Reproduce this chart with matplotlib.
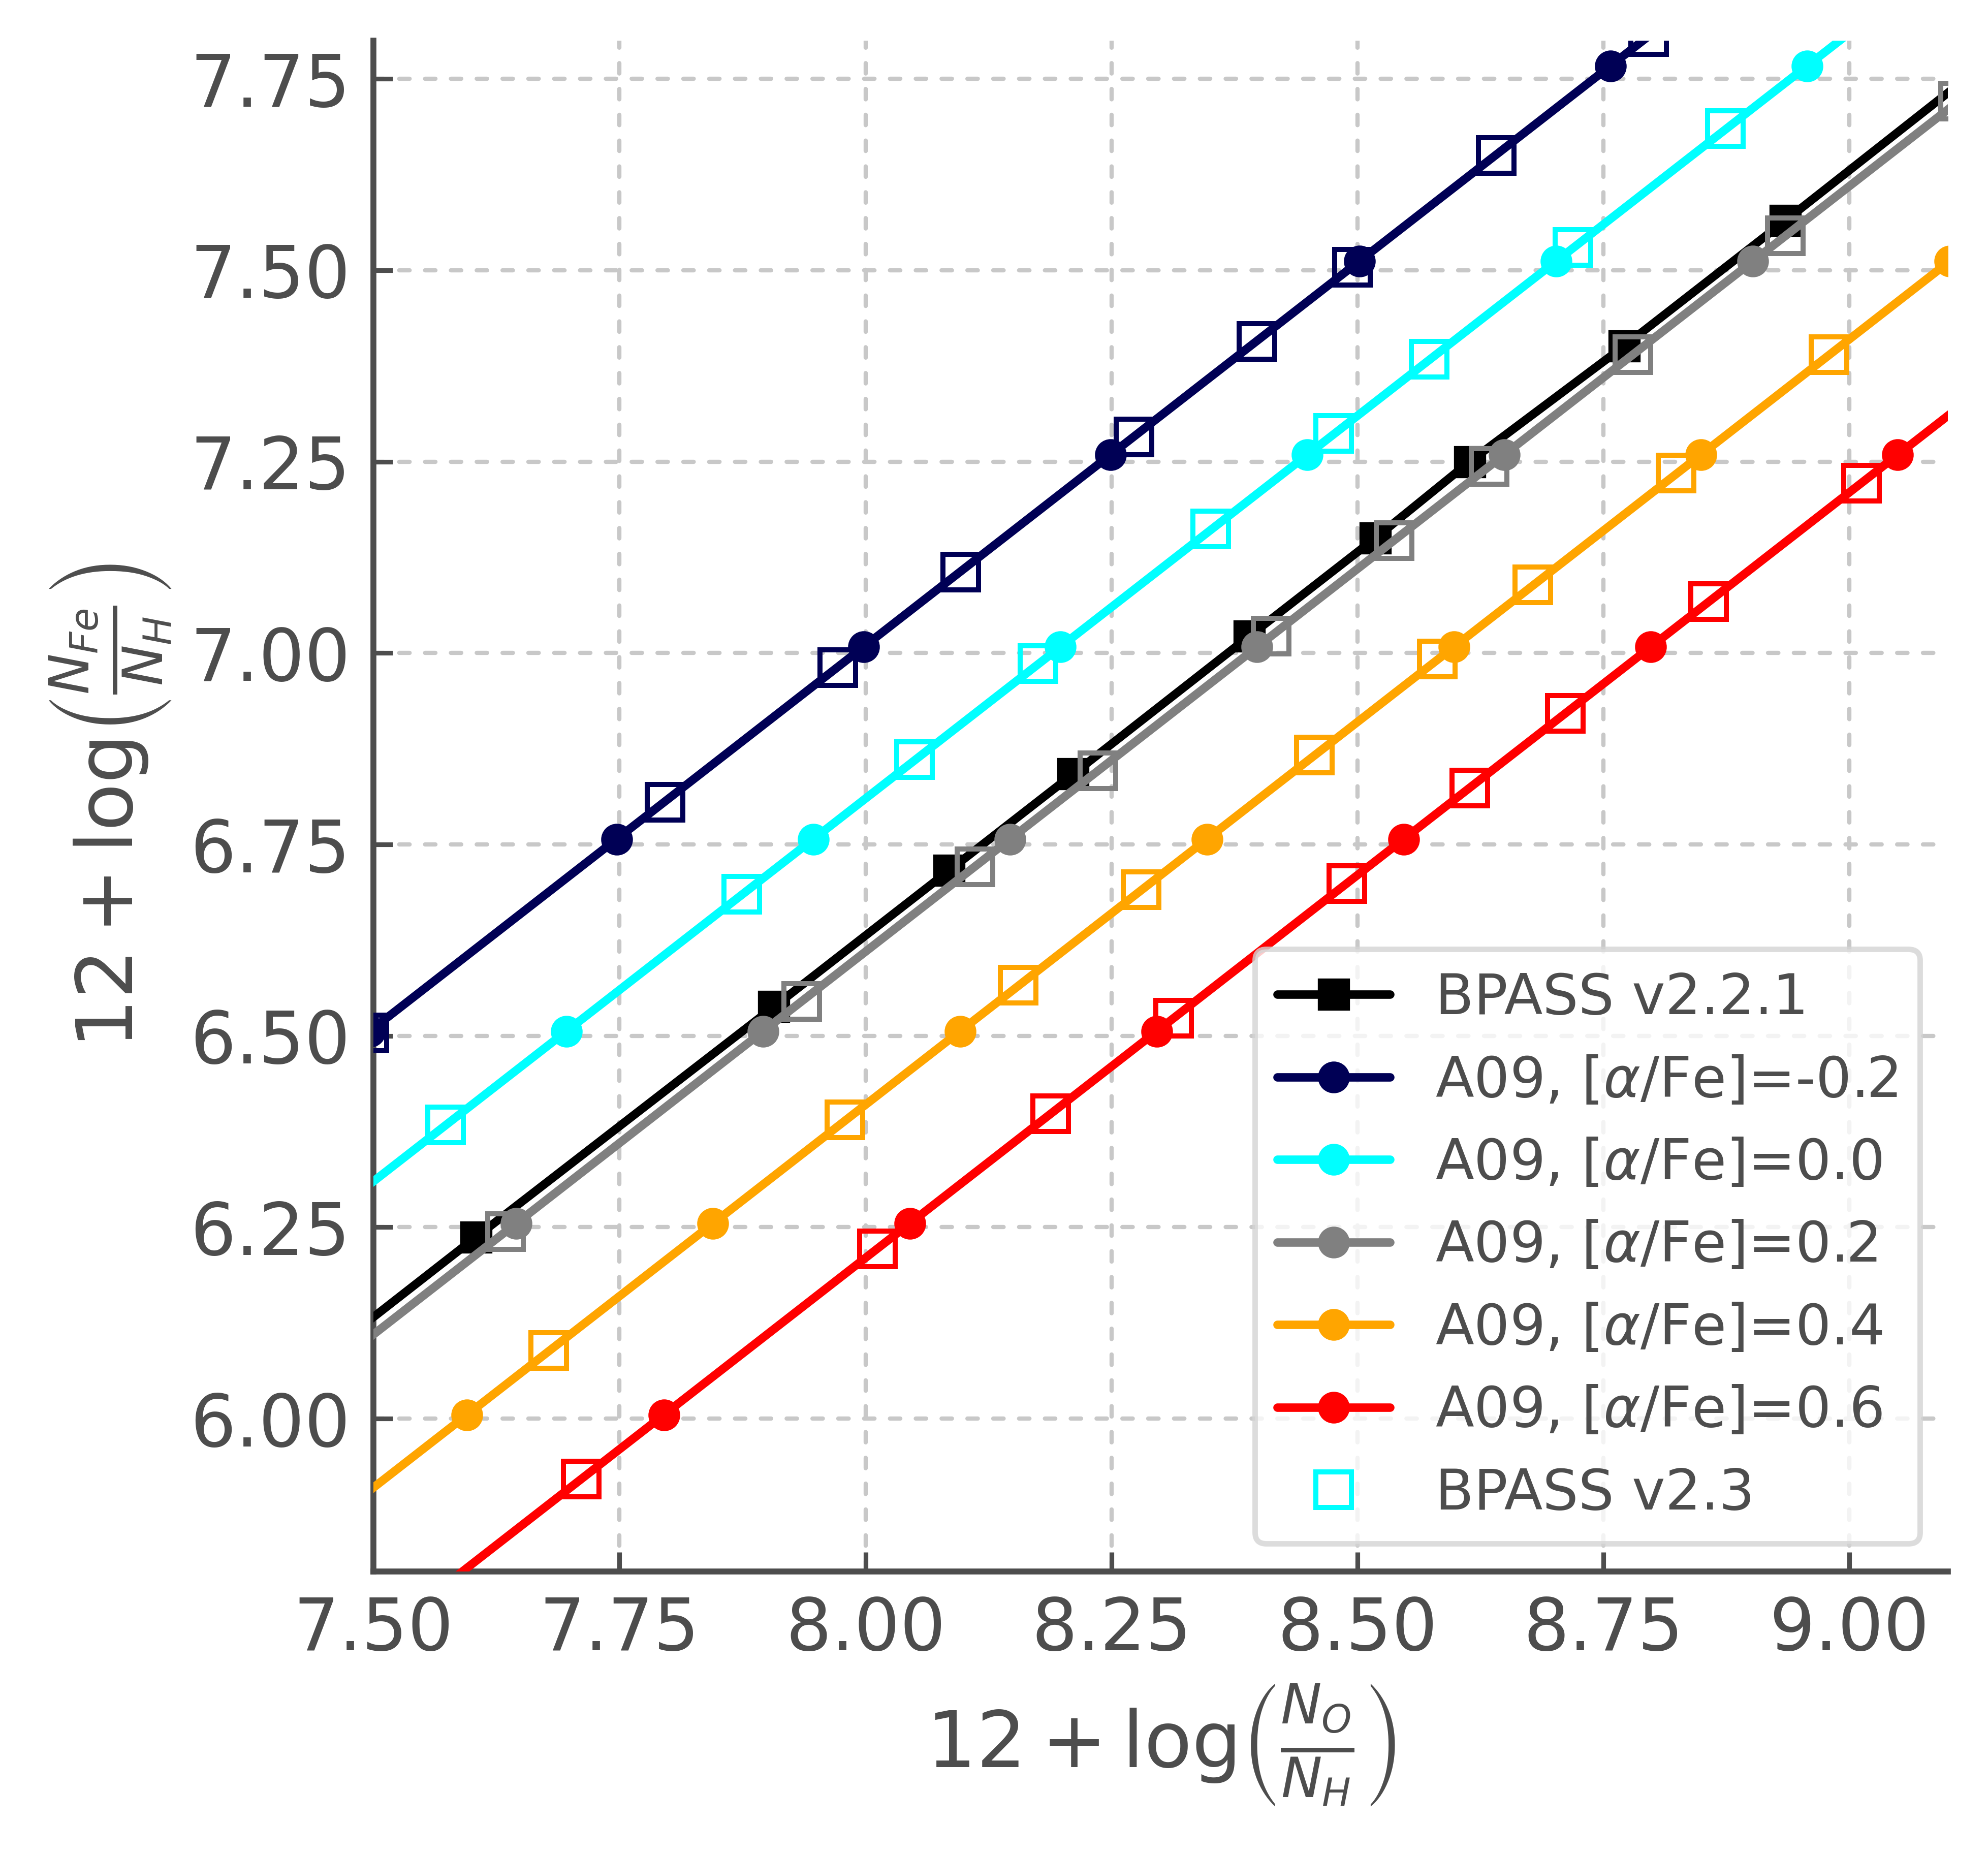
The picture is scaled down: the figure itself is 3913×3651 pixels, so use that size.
import matplotlib
matplotlib.use("Agg")
import matplotlib.pyplot as plt

# couleurs
GRIS_TXT = "#4d4d4d"
COULEURS = ["#000055", "cyan", "gray", "orange", "red"]
ALPHAS = ["-0.2", "0.0", "0.2", "0.4", "0.6"]

# ---- BPASS v2.2.1 (ligne noire) ----
bp221_O = [6.600, 7.604, 7.907, 8.085, 8.211, 8.390, 8.518, 8.614, 8.771, 8.935, 9.117]
bp221_Fe = [5.230, 6.237, 6.538, 6.716, 6.842, 7.022, 7.150, 7.250, 7.401, 7.565, 7.749]

# ---- A09, une courbe par [alpha/Fe] ----
a09_Fe = [5.503, 5.754, 6.005, 6.255, 6.506, 6.757, 7.008, 7.259, 7.512, 7.767, 8.020]
a09_O_m02 = [6.493, 6.744, 6.995, 7.245, 7.496, 7.747, 7.998, 8.249, 8.502, 8.757, 9.010]
a09_O_00 = [6.693, 6.944, 7.195, 7.445, 7.696, 7.947, 8.198, 8.449, 8.702, 8.957, 9.210]
a09_O_02 = [6.893, 7.144, 7.395, 7.645, 7.896, 8.147, 8.398, 8.649, 8.902, 9.157, 9.410]
a09_O_04 = [7.093, 7.344, 7.595, 7.845, 8.096, 8.347, 8.598, 8.849, 9.102, 9.357, 9.610]
a09_O_06 = [7.293, 7.544, 7.795, 8.045, 8.296, 8.547, 8.798, 9.049, 9.302, 9.557, 9.810]

# ---- BPASS v2.3 (carres vides) ----
bp23_O_m02 = [7.495, 7.796, 7.972, 8.097, 8.273, 8.398, 8.495, 8.641, 8.796]
bp23_Fe_m02 = [6.504, 6.805, 6.981, 7.106, 7.282, 7.407, 7.504, 7.650, 7.805]
bp23_O_00 = [7.573, 7.874, 8.050, 8.175, 8.351, 8.476, 8.573, 8.719, 8.874]
bp23_Fe_00 = [6.384, 6.685, 6.861, 6.986, 7.162, 7.287, 7.384, 7.530, 7.685]
bp23_O_02 = [7.634, 7.935, 8.111, 8.236, 8.412, 8.537, 8.634, 8.780, 8.935, 9.111]
bp23_Fe_02 = [6.244, 6.545, 6.721, 6.846, 7.022, 7.147, 7.244, 7.390, 7.545, 7.721]
bp23_O_04 = [7.678, 7.979, 8.155, 8.280, 8.456, 8.581, 8.678, 8.824, 8.979]
bp23_Fe_04 = [6.089, 6.390, 6.566, 6.691, 6.867, 6.992, 7.089, 7.235, 7.390]
bp23_O_06 = [7.711, 8.012, 8.188, 8.313, 8.489, 8.614, 8.711, 8.857, 9.012]
bp23_Fe_06 = [5.921, 6.222, 6.398, 6.523, 6.699, 6.824, 6.921, 7.067, 7.222]

a09_O = [a09_O_m02, a09_O_00, a09_O_02, a09_O_04, a09_O_06]
bp23_O = [bp23_O_m02, bp23_O_00, bp23_O_02, bp23_O_04, bp23_O_06]
bp23_Fe = [bp23_Fe_m02, bp23_Fe_00, bp23_Fe_02, bp23_Fe_04, bp23_Fe_06]

XTICKS = [7.50, 7.75, 8.00, 8.25, 8.50, 8.75, 9.00]
YTICKS = [6.00, 6.25, 6.50, 6.75, 7.00, 7.25, 7.50, 7.75]

plt.rcParams.update({
    "text.color": GRIS_TXT,
    "axes.labelcolor": GRIS_TXT,
    "xtick.color": GRIS_TXT,
    "ytick.color": GRIS_TXT,
    "axes.edgecolor": GRIS_TXT,
    "lines.solid_capstyle": "round",
})

fig = plt.figure(figsize=(3913 / 600, 3651 / 600), dpi=600)
ax = fig.add_axes([0.1879, 0.1527, 0.9798 - 0.1879, 0.9781 - 0.1527])

ax.plot(bp221_O, bp221_Fe, color="black", lw=2.0, marker="s", ms=6.6,
        label="BPASS v2.2.1", zorder=3)

for O, c, a in zip(a09_O, COULEURS, ALPHAS):
    ax.plot(O, a09_Fe, color=c, lw=2.0, marker="o", ms=6.5,
            label=r"A09, [$\alpha$/Fe]=" + a, zorder=3)

for O, Fe, c in zip(bp23_O, bp23_Fe, COULEURS):
    ax.plot(O, Fe, ls="none", marker="s", ms=8.3, mfc="none", mec=c, mew=1.2,
            label="BPASS v2.3" if c == "cyan" else None, zorder=4)

ax.set_xlim(7.5, 9.1)
ax.set_ylim(5.8, 7.8)
ax.set_xticks(XTICKS)
ax.set_yticks(YTICKS)
ax.xaxis.set_major_formatter(matplotlib.ticker.FormatStrFormatter("%.2f"))
ax.yaxis.set_major_formatter(matplotlib.ticker.FormatStrFormatter("%.2f"))

ax.tick_params(direction="in", length=4.6, width=1.1, labelsize=17, pad=5.5)
for s in ["top", "right"]:
    ax.spines[s].set_visible(False)
for s in ["left", "bottom"]:
    ax.spines[s].set_linewidth(1.4)

ax.set_axisbelow(True)
ax.grid(True, color="#c8c8c8", lw=1.0, linestyle=(0, (2.45, 3.65)),
        dash_capstyle="round")

ax.set_xlabel(r"$12 + \mathrm{log}\left(\frac{N_O}{N_H}\right)$", fontsize=18.5)
ax.set_ylabel(r"$12 + \mathrm{log}\left(\frac{N_{Fe}}{N_H}\right)$", fontsize=18.5)

leg = ax.legend(loc="lower right", fontsize=13.3, fancybox=True, framealpha=0.8)
leg.get_frame().set_edgecolor("#d4d4d4")
leg.get_frame().set_linewidth(1.3)

fig.savefig("out.png", dpi=600)
